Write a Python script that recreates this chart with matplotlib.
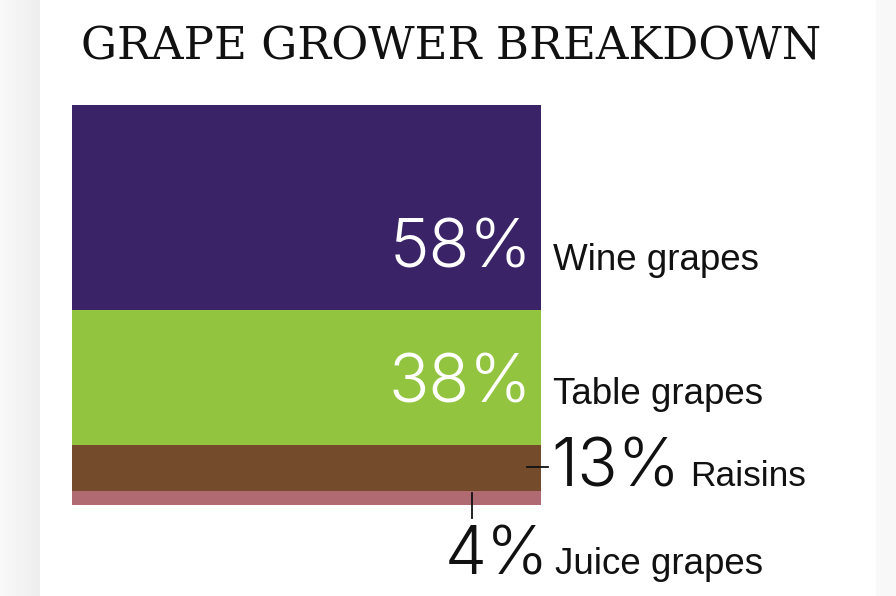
import numpy as np
import matplotlib.pyplot as plt

# data (bottom to top of the stacked bar)
categories = ['Juice grapes', 'Raisins', 'Table grapes', 'Wine grapes']
shares = np.array([4, 13, 38, 58])
colors = ['#b06a72', '#744b2b', '#92c43f', '#3a2467']
title = 'GRAPE GROWER BREAKDOWN'

fig = plt.figure(figsize=(8.96, 5.96), dpi=100)
fig.patch.set_facecolor('white')

# page shadow strips at the sides
bg = fig.add_axes([0, 0, 1, 1], zorder=-1)
bg.axis('off')
grad = np.linspace(0.975, 0.93, 40)[None, :]
bg.imshow(np.repeat(grad, 2, axis=0), cmap='gray', vmin=0, vmax=1,
          extent=[0, 40, 596, 0], aspect='auto')
bg.axvspan(876, 896, color='#f8f8f8', lw=0)
bg.set_xlim(0, 896)
bg.set_ylim(596, 0)

fig.text(0.504, 1 - 60 / 596, title, ha='center', va='baseline',
         family='DejaVu Serif', fontsize=32.5, color='#111111')

ax = fig.add_axes([72 / 896, 1 - 505 / 596, 469 / 896, 400 / 596])
bottoms = np.concatenate([[0], np.cumsum(shares)[:-1]])
ax.bar(0, shares, bottom=bottoms, width=1, color=colors, lw=0)
ax.set_xlim(-0.5, 0.5)
ax.set_ylim(0, shares.sum())
ax.axis('off')

tr = ax.get_yaxis_transform()
big = dict(family='Inter', fontweight=300, fontsize=48)
lab = dict(family='Liberation Sans', fontsize=26.5, color='#111111')

# wine and table grapes: value inside, label outside
for i in (3, 2):
    y = bottoms[i] + 12
    ax.text(0.981, y, f'{shares[i]}%', transform=tr, ha='right', va='baseline',
            color='white', **big)
    ax.text(1.026, y - 0.5, categories[i], transform=tr, ha='left',
            va='baseline', **lab)

# raisins
ax.plot([0.970, 1.015], [10.8, 10.8], transform=tr, color='#111111', lw=1.3,
        clip_on=False)
ax.text(1.022, 5.1, f'{shares[1]}%', transform=tr, ha='left', va='baseline',
        color='#111111', **big)
ax.text(1.318, 5.3, categories[1], transform=tr, ha='left', va='baseline',
        family='Liberation Sans', fontsize=25.5, color='#111111')

# juice grapes
ax.plot([0.853, 0.853], [3.4, -3.7], transform=tr, color='#111111', lw=1.3,
        clip_on=False)
ax.text(0.794, -19.5, f'{shares[0]}%', transform=tr, ha='left', va='baseline',
        color='#111111', **big)
ax.text(1.030, -19.5, categories[0], transform=tr, ha='left', va='baseline', **lab)

fig.savefig('out.png', dpi=100)
